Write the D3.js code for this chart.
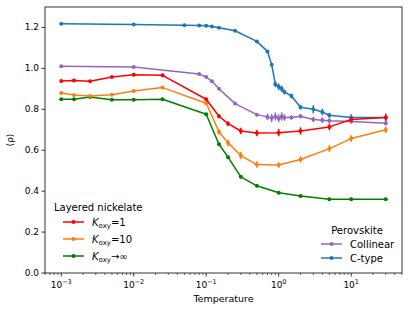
<!DOCTYPE html>
<html>
<head>
<meta charset="utf-8">
<script src="https://cdn.jsdelivr.net/npm/d3@7"></script>
<style>
    body { margin: 0; background: #fff; }
    text { font-family: "DejaVu Sans", sans-serif; fill: #000; }
</style>
</head>
<body>
<div id="chart"></div>
<script>
// Layered nickelate temperatures and values
const nickelateT = [0.001, 0.0015, 0.0025, 0.005, 0.01, 0.025, 0.1, 0.15, 0.2, 0.3, 0.5, 1, 2, 5, 10, 30];
const koxy1 = [0.938, 0.941, 0.937, 0.958, 0.969, 0.966, 0.849, 0.766, 0.73, 0.694, 0.684, 0.686, 0.694, 0.714, 0.75, 0.76];
const koxy1Err = [0, 0, 0, 0, 0, 0, 0.008, 0.01, 0.012, 0.016, 0.016, 0.018, 0.018, 0.016, 0.012, 0.016];
const koxy10 = [0.88, 0.87, 0.865, 0.871, 0.889, 0.906, 0.83, 0.69, 0.636, 0.574, 0.53, 0.528, 0.555, 0.608, 0.657, 0.70];
const koxy10Err = [0, 0, 0, 0, 0, 0, 0.008, 0.014, 0.016, 0.018, 0.016, 0.014, 0.016, 0.016, 0.016, 0.016];
const koxyInf = [0.849, 0.849, 0.86, 0.847, 0.847, 0.849, 0.776, 0.629, 0.566, 0.47, 0.426, 0.392, 0.376, 0.36, 0.36, 0.36];
const koxyInfErr = [0, 0, 0, 0, 0, 0, 0.006, 0.008, 0.008, 0.008, 0.008, 0.008, 0.008, 0.008, 0.008, 0.008];

// Perovskite temperatures and values
const collinearT = [0.001, 0.01, 0.08, 0.1, 0.12, 0.15, 0.25, 0.5, 0.7, 0.8, 0.9, 1.0, 1.1, 1.2, 1.5, 2, 3, 4, 5, 10, 30];
const collinear = [1.011, 1.007, 0.972, 0.958, 0.937, 0.90, 0.828, 0.774, 0.763, 0.757, 0.765, 0.756, 0.765, 0.76, 0.76, 0.766, 0.75, 0.747, 0.744, 0.741, 0.732];
const collinearErr = [0, 0, 0.004, 0.004, 0.004, 0.004, 0.006, 0.008, 0.016, 0.02, 0.02, 0.02, 0.02, 0.016, 0.01, 0.01, 0.012, 0.014, 0.012, 0.01, 0.01];
const ctypeT = [0.001, 0.01, 0.05, 0.08, 0.1, 0.12, 0.15, 0.25, 0.5, 0.7, 0.8, 0.9, 1.0, 1.1, 1.2, 1.5, 2, 3, 4, 5, 10, 30];
const ctype = [1.218, 1.215, 1.211, 1.21, 1.208, 1.205, 1.199, 1.184, 1.132, 1.083, 1.018, 0.922, 0.91, 0.90, 0.885, 0.865, 0.81, 0.80, 0.787, 0.771, 0.76, 0.76];
const ctypeErr = [0, 0, 0, 0, 0, 0, 0, 0, 0.004, 0.006, 0.006, 0.014, 0.016, 0.016, 0.012, 0.012, 0.012, 0.02, 0.016, 0.012, 0.016, 0.02];

const xTicks = [1e-3, 1e-2, 1e-1, 1e0, 1e1];
const xTickExps = ["−3", "−2", "−1", "0", "1"];
const yTicks = [0.0, 0.2, 0.4, 0.6, 0.8, 1.0, 1.2];

const width = 410;
const height = 312;
const plot = { left: 45, right: 402, top: 7, bottom: 273 };

const svg = d3.select("#chart")
    .append("svg")
    .attr("width", width)
    .attr("height", height);

// Log x scale with matplotlib style 5% margins in decades
const x = d3.scaleLog()
    .domain([Math.pow(10, -3.224), Math.pow(10, 1.701)])
    .range([plot.left, plot.right]);

const y = d3.scaleLinear()
    .domain([0, 1.3])
    .range([plot.bottom, plot.top]);

const series = [
    { name: "koxy1", t: nickelateT, v: koxy1, e: koxy1Err, color: "#ff0000" },
    { name: "koxy10", t: nickelateT, v: koxy10, e: koxy10Err, color: "#ff7f0e" },
    { name: "koxyInf", t: nickelateT, v: koxyInf, e: koxyInfErr, color: "#008000" },
    { name: "collinear", t: collinearT, v: collinear, e: collinearErr, color: "#9467bd" },
    { name: "ctype", t: ctypeT, v: ctype, e: ctypeErr, color: "#1f77b4" }
];

// Draw order: perovskite first, nickelate on top
const drawOrder = [series[4], series[3], series[2], series[1], series[0]];

const line = d3.line()
    .x(d => x(d.t))
    .y(d => y(d.v));

drawOrder.forEach(s => {
    const pts = s.t.map((t, i) => ({ t: t, v: s.v[i], e: s.e[i] }));
    const g = svg.append("g");

    g.append("path")
        .datum(pts)
        .attr("d", line)
        .attr("fill", "none")
        .attr("stroke", s.color)
        .attr("stroke-width", 1.5)
        .attr("stroke-linejoin", "round");

    // Error bars
    g.selectAll("line.err")
        .data(pts.filter(d => d.e > 0))
        .enter()
        .append("line")
        .attr("x1", d => x(d.t))
        .attr("x2", d => x(d.t))
        .attr("y1", d => y(d.v - d.e))
        .attr("y2", d => y(d.v + d.e))
        .attr("stroke", s.color)
        .attr("stroke-width", 1.5);

    g.selectAll("circle")
        .data(pts)
        .enter()
        .append("circle")
        .attr("cx", d => x(d.t))
        .attr("cy", d => y(d.v))
        .attr("r", 2)
        .attr("fill", s.color);
});

// Frame
svg.append("rect")
    .attr("x", plot.left)
    .attr("y", plot.top)
    .attr("width", plot.right - plot.left)
    .attr("height", plot.bottom - plot.top)
    .attr("fill", "none")
    .attr("stroke", "#000")
    .attr("stroke-width", 0.8);

// X axis ticks, major and minor
const minorTicks = [];
for (let e = -4; e <= 1; e++) {
    for (let m = 2; m <= 9; m++) {
        const v = m * Math.pow(10, e);
        if (v > x.domain()[0] && v < x.domain()[1]) minorTicks.push(v);
    }
}
svg.append("g").selectAll("line")
    .data(minorTicks)
    .enter()
    .append("line")
    .attr("x1", d => x(d)).attr("x2", d => x(d))
    .attr("y1", plot.bottom).attr("y2", plot.bottom + 2)
    .attr("stroke", "#000").attr("stroke-width", 0.6);

const xt = svg.append("g").selectAll("g")
    .data(xTicks)
    .enter()
    .append("g")
    .attr("transform", d => `translate(${x(d)},${plot.bottom})`);
xt.append("line")
    .attr("y2", 3.5)
    .attr("stroke", "#000").attr("stroke-width", 0.8);
const xl = xt.append("text")
    .attr("y", 15)
    .attr("text-anchor", "middle")
    .style("font-size", "9px");
xl.append("tspan").text("10");
xl.append("tspan")
    .text((d, i) => xTickExps[i])
    .attr("dy", -4)
    .style("font-size", "6.5px");

// Y axis ticks
const yt = svg.append("g").selectAll("g")
    .data(yTicks)
    .enter()
    .append("g")
    .attr("transform", d => `translate(${plot.left},${y(d)})`);
yt.append("line")
    .attr("x2", -3.5)
    .attr("stroke", "#000").attr("stroke-width", 0.8);
yt.append("text")
    .text(d => d.toFixed(1))
    .attr("x", -6)
    .attr("dy", "0.33em")
    .attr("text-anchor", "end")
    .style("font-size", "9px");

// Axis labels
svg.append("text")
    .text("Temperature")
    .attr("x", (plot.left + plot.right) / 2)
    .attr("y", 302)
    .attr("text-anchor", "middle")
    .style("font-size", "9.5px");

svg.append("text")
    .text("⟨ρ⟩")
    .attr("text-anchor", "middle")
    .attr("transform", `translate(13, ${(plot.top + plot.bottom) / 2}) rotate(-90)`)
    .style("font-size", "9px");

// Legend helper
function legendEntry(g, lx, ly, color, label) {
    g.append("line")
        .attr("x1", lx).attr("x2", lx + 21)
        .attr("y1", ly).attr("y2", ly)
        .attr("stroke", color).attr("stroke-width", 1.5);
    g.append("circle")
        .attr("cx", lx + 10.5).attr("cy", ly).attr("r", 2)
        .attr("fill", color);
    return g.append("text")
        .attr("x", lx + 29)
        .attr("y", ly)
        .attr("dy", "0.35em")
        .style("font-size", "10px")
        .text(label);
}

// Subscripted K_oxy label
function koxyLabel(textSel, suffix) {
    textSel.text(null);
    textSel.append("tspan").text("K").style("font-style", "italic");
    textSel.append("tspan").text("oxy").attr("dy", 2.5).style("font-size", "7px");
    textSel.append("tspan").text(suffix).attr("dy", -2.5);
}

// Layered nickelate legend
const leg1 = svg.append("g");
leg1.append("text")
    .text("Layered nickelate")
    .attr("x", 54)
    .attr("y", 207)
    .attr("dy", "0.35em")
    .style("font-size", "10px");
koxyLabel(legendEntry(leg1, 63, 222, series[0].color, ""), "=1");
koxyLabel(legendEntry(leg1, 63, 239, series[1].color, ""), "=10");
koxyLabel(legendEntry(leg1, 63, 256, series[2].color, ""), "→∞");

// Perovskite legend
const leg2 = svg.append("g");
leg2.append("text")
    .text("Perovskite")
    .attr("x", 357)
    .attr("y", 230)
    .attr("dy", "0.35em")
    .attr("text-anchor", "middle")
    .style("font-size", "10px");
legendEntry(leg2, 321, 244, series[3].color, "Collinear");
legendEntry(leg2, 321, 258, series[4].color, "C-type");
</script>
</body>
</html>
